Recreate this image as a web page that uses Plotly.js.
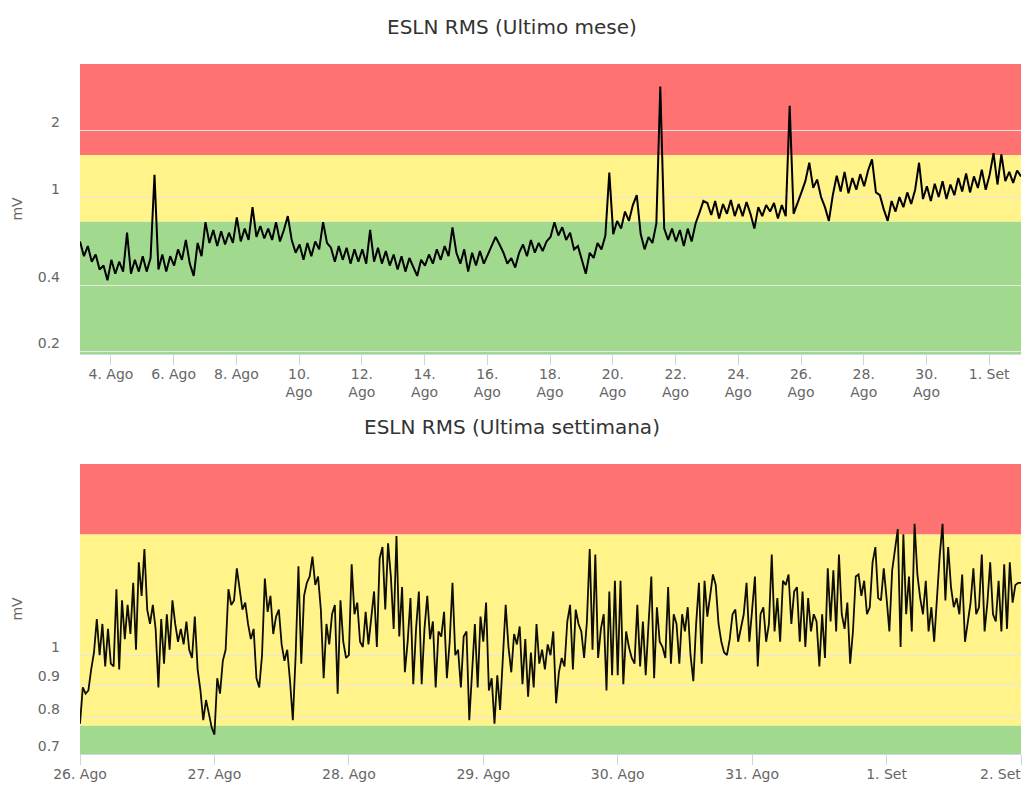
<!DOCTYPE html>
<html>
<head>
<meta charset="utf-8">
<script src="https://cdn.plot.ly/plotly-3.0.1.min.js"></script>
<style>
html,body{margin:0;padding:0;background:#fff;}
#chart{width:1023px;height:785px;}
</style>
</head>
<body>
<div id="chart"></div>
<script>
// ---- Data ----
const titleMonth = "ESLN RMS (Ultimo mese)";
const titleWeek = "ESLN RMS (Ultima settimana)";
const unitLabel = "mV";

// thresholds of the coloured bands (mV)
const bandLow = 0.775;
const bandHigh = 1.55;

// Monthly series: samples every 3 hours from 3 Aug 00:20
const monthStart = "2023-08-03T00:20:00";
const monthStepHours = 3;
const monthValues = [
  0.63,0.54,0.60,0.51,0.55,0.47,0.49,0.42,
  0.52,0.45,0.51,0.46,0.69,0.45,0.52,0.46,
  0.54,0.46,0.53,1.26,0.47,0.55,0.46,0.54,
  0.49,0.58,0.52,0.64,0.50,0.44,0.62,0.54,
  0.77,0.62,0.71,0.60,0.70,0.61,0.69,0.62,
  0.81,0.63,0.72,0.64,0.90,0.66,0.74,0.65,
  0.72,0.64,0.77,0.63,0.71,0.82,0.64,0.56,
  0.61,0.52,0.62,0.54,0.63,0.58,0.77,0.62,
  0.59,0.51,0.60,0.52,0.59,0.50,0.58,0.51,
  0.58,0.50,0.71,0.51,0.59,0.50,0.57,0.49,
  0.55,0.47,0.54,0.46,0.53,0.48,0.44,0.52,
  0.49,0.55,0.50,0.58,0.52,0.60,0.54,0.73,
  0.56,0.50,0.58,0.46,0.56,0.49,0.57,0.50,
  0.55,0.60,0.66,0.61,0.56,0.50,0.53,0.48,
  0.56,0.61,0.54,0.64,0.56,0.62,0.57,0.63,
  0.66,0.77,0.67,0.73,0.64,0.69,0.58,0.60,
  0.52,0.45,0.56,0.53,0.62,0.58,0.67,1.29,
  0.68,0.78,0.72,0.86,0.78,0.92,1.02,0.68,
  0.58,0.66,0.62,0.76,3.16,0.72,0.64,0.72,
  0.63,0.71,0.60,0.72,0.63,0.76,0.85,0.96,
  0.94,0.83,0.96,0.80,0.93,0.84,0.97,0.82,
  0.93,0.82,0.95,0.84,0.72,0.90,0.82,0.92,
  0.86,0.94,0.80,0.92,0.82,2.59,0.84,0.93,
  1.05,1.18,1.43,1.10,1.20,1.00,0.90,0.78,
  1.02,1.25,1.06,1.30,1.04,1.22,1.08,1.27,
  1.12,1.32,1.48,1.05,1.02,0.88,0.78,0.96,
  0.86,1.00,0.90,1.05,0.93,1.08,1.43,0.98,
  1.12,0.96,1.15,1.00,1.18,0.98,1.14,1.02,
  1.22,1.06,1.28,1.05,1.24,1.10,1.33,1.08,
  1.26,1.58,1.14,1.56,1.18,1.30,1.16,1.32,
  1.24
];

// Weekly series: samples every 30 minutes from 26 Aug 00:00
const weekStart = "2023-08-26T00:00:00";
const weekStepMinutes = 30;
const weekValues = [
  0.78,0.89,0.87,0.88,0.95,1.01,1.14,1.00,1.12,0.96,1.10,0.97,
  0.96,1.27,0.95,1.22,1.06,1.20,1.08,1.30,1.02,1.40,1.24,1.47,
  1.18,1.12,1.20,1.10,0.89,1.14,0.97,1.16,1.02,1.22,1.12,1.05,
  1.10,1.04,1.13,1.02,0.99,1.15,0.95,0.88,0.79,0.85,0.81,0.77,
  0.75,0.92,0.87,0.98,1.02,1.27,1.20,1.22,1.37,1.28,1.18,1.21,
  1.12,1.06,1.10,0.92,0.89,1.00,1.32,1.17,1.24,1.08,1.15,1.18,
  1.04,0.98,1.02,0.91,0.79,1.00,1.38,0.97,1.24,1.30,1.33,1.43,
  1.29,1.33,1.18,0.92,1.12,1.04,1.16,1.20,0.87,1.22,1.05,0.99,
  1.00,1.39,1.16,1.21,1.05,1.03,1.17,1.04,1.14,1.26,1.03,1.42,
  1.48,1.18,1.50,1.33,1.10,1.54,1.07,1.28,0.94,1.05,1.23,0.90,
  1.10,1.26,0.90,1.10,1.24,1.06,1.13,0.89,1.09,1.07,1.17,0.92,
  1.05,1.30,1.00,1.02,0.89,1.07,1.09,0.79,0.94,1.12,0.89,1.15,
  1.05,1.21,0.88,0.92,0.78,0.93,0.82,1.00,1.20,1.03,0.94,1.08,
  1.04,1.11,0.90,1.06,0.86,1.01,0.89,1.12,0.97,1.02,0.95,1.04,
  1.00,1.09,0.84,0.94,0.99,0.96,1.13,1.20,0.95,1.18,1.12,1.09,
  0.99,1.13,1.47,1.02,1.44,0.99,1.10,1.16,0.88,1.26,0.93,1.31,
  0.93,1.31,0.90,1.09,1.03,0.99,0.97,1.20,0.96,1.13,0.93,1.12,
  1.33,0.92,1.19,1.05,1.03,0.99,1.28,0.97,1.16,1.12,0.97,1.16,
  1.09,1.19,1.00,0.91,1.12,1.30,0.97,1.31,1.15,1.24,1.34,1.29,
  1.12,1.05,1.01,1.00,1.06,1.16,1.18,1.05,1.10,1.16,1.30,1.05,
  1.18,1.33,0.96,1.16,1.19,1.05,1.12,1.44,1.09,1.23,1.05,1.31,
  1.29,1.34,1.12,1.26,1.28,1.05,1.26,1.03,1.23,1.09,1.16,1.13,
  0.96,1.16,0.99,1.37,1.13,1.36,1.09,1.44,1.16,1.10,1.21,0.97,
  1.09,1.33,1.34,1.24,1.31,1.16,1.19,1.40,1.48,1.23,1.22,1.37,
  1.23,1.09,1.36,1.46,1.58,1.03,1.55,1.16,1.33,1.09,1.61,1.34,
  1.23,1.16,1.31,1.09,1.19,1.05,1.24,1.44,1.61,1.22,1.48,1.28,
  1.19,1.23,1.16,1.34,1.05,1.13,1.21,1.37,1.16,1.19,1.44,1.09,
  1.21,1.40,1.16,1.13,1.31,1.09,1.39,1.10,1.40,1.21,1.29,1.30,
  1.30
];

// Axis ranges and ticks
const monthRange = ["2023-08-03 00:20", "2023-09-02 00:20"];
const weekRange = ["2023-08-26", "2023-09-02"];
const monthTickDates = ["2023-08-04","2023-08-06","2023-08-08","2023-08-10","2023-08-12","2023-08-14","2023-08-16","2023-08-18","2023-08-20","2023-08-22","2023-08-24","2023-08-26","2023-08-28","2023-08-30","2023-09-01"];
const monthTickLabels = ["4. Ago","6. Ago","8. Ago","10.<br>Ago","12.<br>Ago","14.<br>Ago","16.<br>Ago","18.<br>Ago","20.<br>Ago","22.<br>Ago","24.<br>Ago","26.<br>Ago","28.<br>Ago","30.<br>Ago","1. Set"];
const weekTickDates = ["2023-08-26","2023-08-27","2023-08-28","2023-08-29","2023-08-30","2023-08-31","2023-09-01","2023-09-02"];
const weekTickLabels = ["26. Ago","27. Ago","28. Ago","29. Ago","30. Ago","31. Ago","1. Set","2. Set"];
const monthYTicks = [0.2, 0.4, 1, 2];
const monthYRange = [0.195, 4.0];
const weekYTicks = [0.7, 0.8, 0.9, 1];
const weekYRange = [0.699, 2.0];

// ---- Build ----
function timeSeries(startIso, stepMs, n) {
  const t0 = Date.parse(startIso + "Z");
  const out = [];
  for (let i = 0; i < n; i++) out.push(t0 + i * stepMs);
  return out;
}
const monthX = timeSeries(monthStart, monthStepHours * 3600e3, monthValues.length);
const weekX = timeSeries(weekStart, weekStepMinutes * 60e3, weekValues.length);

const FONT = "DejaVu Sans, Verdana, sans-serif";
const tickFont = {family: FONT, size: 14, color: "#666666"};

const traces = [
  {x: monthX, y: monthValues, type: "scatter", mode: "lines", xaxis: "x", yaxis: "y",
   line: {color: "#000000", width: 2}, hoverinfo: "skip"},
  {x: weekX, y: weekValues, type: "scatter", mode: "lines", xaxis: "x2", yaxis: "y2",
   line: {color: "#0d0d00", width: 1.8}, hoverinfo: "skip"}
];

const RED = "#ff7272", YELLOW = "#fff389", GREEN = "#a1da8f";
function bands(xref, yref) {
  return [
    {type: "rect", xref: xref + " domain", yref: yref, x0: 0, x1: 1, y0: 0.001, y1: bandLow, fillcolor: GREEN, line: {width: 0}, layer: "below"},
    {type: "rect", xref: xref + " domain", yref: yref, x0: 0, x1: 1, y0: bandLow, y1: bandHigh, fillcolor: YELLOW, line: {width: 0}, layer: "below"},
    {type: "rect", xref: xref + " domain", yref: yref, x0: 0, x1: 1, y0: bandHigh, y1: 1000, fillcolor: RED, line: {width: 0}, layer: "below"}
  ];
}

// the last weekly tick label sits at the right edge (drawn right-aligned like the original)
const lastWeekLabel = weekTickLabels[weekTickLabels.length - 1];
const weekTickText = weekTickLabels.slice(0, -1).concat([""]);

function xAxis(anchor, range, vals, labels) {
  return {
    type: "date", anchor: anchor, domain: [0, 1], range: range,
    tickmode: "array", tickvals: vals, ticktext: labels,
    ticks: "outside", ticklen: 10, tickwidth: 1, tickcolor: "#ccd6eb",
    ticklabelstandoff: -3,
    showgrid: false, showline: true, linecolor: "#ccd6eb", linewidth: 1,
    zeroline: false, tickfont: tickFont, fixedrange: true
  };
}
function yAxis(anchor, domain, range, ticks) {
  return {
    type: "log", anchor: anchor, domain: domain,
    range: [Math.log10(range[0]), Math.log10(range[1])],
    tickmode: "array", tickvals: ticks, ticktext: ticks.map(String),
    showgrid: true, gridcolor: "#e6e6e6", gridwidth: 1, zeroline: false,
    showline: false, ticks: "", ticklabelstandoff: 19, ticklabelshift: -8,
    tickfont: tickFont, fixedrange: true,
    title: {text: unitLabel, font: {family: FONT, size: 14, color: "#666666"}, standoff: 11}
  };
}

const layout = {
  width: 1023, height: 785,
  margin: {l: 80, r: 2, t: 64, b: 31},
  paper_bgcolor: "#ffffff", plot_bgcolor: "#ffffff",
  showlegend: false, hovermode: false,
  font: {family: FONT, color: "#666666"},
  xaxis: xAxis("y", monthRange, monthTickDates, monthTickLabels),
  yaxis: yAxis("x", [0.5797, 1], monthYRange, monthYTicks),
  xaxis2: xAxis("y2", weekRange, weekTickDates, weekTickText),
  yaxis2: yAxis("x2", [0, 0.4203], weekYRange, weekYTicks),
  shapes: bands("x", "y").concat(bands("x2", "y2")),
  annotations: [
    {text: titleMonth, xref: "paper", yref: "paper", x: 0.4586, y: 1.0536, xanchor: "center", yanchor: "middle",
     showarrow: false, font: {family: FONT, size: 20, color: "#333333"}},
    {text: titleWeek, xref: "paper", yref: "paper", x: 0.4586, y: 0.4739, xanchor: "center", yanchor: "middle",
     showarrow: false, font: {family: FONT, size: 20, color: "#333333"}},
    {text: lastWeekLabel, xref: "x2 domain", yref: "paper", x: 1.002, y: -0.029, xanchor: "right", yanchor: "middle",
     showarrow: false, font: tickFont}
  ]
};

Plotly.newPlot("chart", traces, layout, {staticPlot: true, displayModeBar: false});
</script>
</body>
</html>
